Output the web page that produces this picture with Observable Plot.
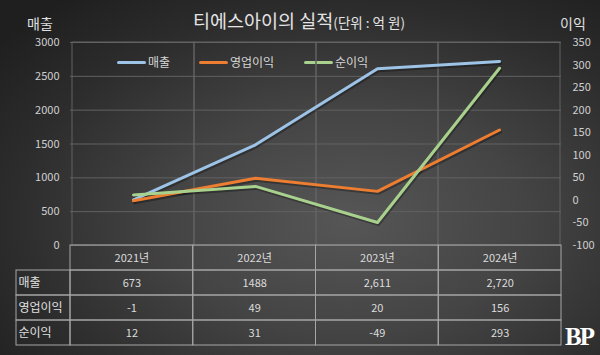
<!DOCTYPE html>
<html><head><meta charset="utf-8">
<script src="https://cdn.jsdelivr.net/npm/d3@7"></script>
<script src="https://cdn.jsdelivr.net/npm/@observablehq/plot@0.6"></script>
<style>
body{margin:0;background:#222;}
#wrap{position:relative;width:600px;height:355px;overflow:hidden;
 background:radial-gradient(ellipse 75% 80% at 58% 62%, #565656 0%, #444 40%, #2c2c2c 75%, #1f1f1f 100%);
 font-family:"Noto Sans CJK KR","Noto Sans",sans-serif;color:#ddd;}
#wrap svg{position:absolute;left:0;top:0;background:transparent;overflow:visible;}
.lbl{position:absolute;white-space:nowrap;line-height:1;}
#title{left:193px;top:11px;font-size:18.5px;color:#e4e4e4;}
#title small{font-size:13.5px;}
#lsales{left:27px;top:16px;font-size:14px;color:#e0e0e0;}
#lprofit{left:560px;top:16px;font-size:14px;color:#e0e0e0;}
#legend{position:absolute;top:52px;left:0;height:20px;}
.item{position:absolute;top:0;font-size:12px;color:#d6d6d6;line-height:20px;white-space:nowrap;}
.sw{display:inline-block;width:29px;height:3px;border-radius:2px;vertical-align:middle;margin-right:2px;position:relative;top:-1px;}
#bp{position:absolute;left:565px;top:324px;font-family:"Liberation Serif",serif;font-weight:bold;font-size:25px;color:#fff;letter-spacing:-2px;line-height:1;}
</style></head><body>
<div id="wrap">
 <div class="lbl" id="lsales">매출</div>
 <div class="lbl" id="title">티에스아이의 실적<small>(단위 : 억 원)</small></div>
 <div class="lbl" id="lprofit">이익</div>
 <div id="legend"></div>
 <div id="bp">BP</div>
</div>
<script>
const years = ["2021년","2022년","2023년","2024년"];
const sales = [673, 1488, 2611, 2720];
const opProfit = [-1, 49, 20, 156];
const netProfit = [12, 31, -49, 293];
const salesText = ["673","1488","2,611","2,720"];
const opText = ["-1","49","20","156"];
const netText = ["12","31","-49","293"];
const rowNames = ["매출","영업이익","순이익"];
const seriesNames = ["매출","영업이익","순이익"];
const seriesColors = ["#9dc3e6","#ed7d31","#a9d18e"];
const leftTicks = [0,500,1000,1500,2000,2500,3000];
const rightTicks = [-100,-50,0,50,100,150,200,250,300,350];
const leftDomain = [0,3000];
const rightDomain = [-100,350];

const toLeft = v => (v - rightDomain[0]) / (rightDomain[1]-rightDomain[0]) * (leftDomain[1]-leftDomain[0]) + leftDomain[0];

const lineData = [];
years.forEach((y,i)=>{
  lineData.push({year:y, series:"매출", v:sales[i]});
  lineData.push({year:y, series:"영업이익", v:toLeft(opProfit[i])});
  lineData.push({year:y, series:"순이익", v:toLeft(netProfit[i])});
});

const grid = "#626262";
const font = '"Noto Sans CJK KR","Noto Sans",sans-serif';

const chart = Plot.plot({
  width:600, height:355,
  marginTop:42, marginBottom:110, marginLeft:70, marginRight:39,
  x:{type:"band", domain:years, padding:0, axis:null},
  y:{domain:leftDomain, axis:null},
  color:{domain:seriesNames, range:seriesColors},
  style:{background:"transparent", fontFamily:font, fontSize:"11px", color:"#d0d0d0"},
  marks:[
    Plot.ruleY(leftTicks, {y:d=>d, stroke:grid, strokeWidth:1}),
    Plot.cell(years, {x:d=>d, fill:"none", stroke:grid, strokeWidth:1}),
    Plot.text(leftTicks, {y:d=>d, frameAnchor:"left", dx:-11, textAnchor:"end", text:d=>String(d), fill:"#d0d0d0"}),
    Plot.text(rightTicks, {y:d=>toLeft(d), frameAnchor:"right", dx:11, textAnchor:"start", text:d=>String(d), fill:"#d0d0d0"}),
    Plot.line(lineData, {x:"year", y:"v", z:"series", stroke:"#000", strokeOpacity:0.3, strokeWidth:3, dx:1, dy:2}),
    Plot.line(lineData, {x:"year", y:"v", z:"series", stroke:"series", strokeWidth:3})
  ]
});
document.getElementById("wrap").appendChild(chart);

// table
const cells = [];
years.forEach((y,i)=>{
  cells.push({x1:i, x2:i+1, row:0, text:y});
  cells.push({x1:i, x2:i+1, row:1, text:salesText[i]});
  cells.push({x1:i, x2:i+1, row:2, text:opText[i]});
  cells.push({x1:i, x2:i+1, row:3, text:netText[i]});
});
const labelCells = rowNames.map((n,i)=>({x1:-0.44, x2:0, row:i+1, text:n}));
const tborder = "#a6a6a6";
const table = Plot.plot({
  width:600, height:355,
  marginTop:245, marginBottom:10, marginLeft:16, marginRight:39,
  x:{domain:[-0.44,4], axis:null},
  y:{domain:[0,4], reverse:true, axis:null},
  style:{background:"transparent", fontFamily:font, fontSize:"11px"},
  marks:[
    Plot.rect(cells.concat(labelCells), {x1:"x1", x2:"x2", y1:d=>d.row, y2:d=>d.row+1, fill:"none", stroke:tborder, strokeWidth:1}),
    Plot.text(cells, {x:d=>(d.x1+d.x2)/2, y:d=>d.row+0.5, text:"text", fill:"#dcdcdc", fontSize:11}),
    Plot.text(labelCells, {x:"x1", y:d=>d.row+0.5, text:"text", textAnchor:"start", dx:2, fill:"#e0e0e0", fontSize:12})
  ]
});
document.getElementById("wrap").appendChild(table);

// legend
const legendX = [117, 199, 304];
const lg = document.getElementById("legend");
seriesNames.forEach((n,i)=>{
  const d = document.createElement("div");
  d.className = "item";
  d.style.left = legendX[i] + "px";
  d.innerHTML = `<span class="sw" style="background:${seriesColors[i]}"></span>${n}`;
  lg.appendChild(d);
});
</script>
</body></html>
